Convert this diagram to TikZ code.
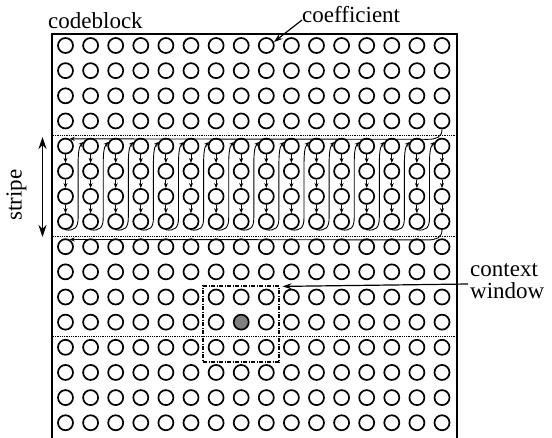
\documentclass[tikz,border=0pt]{standalone}
\usepackage{fontspec}
\setmainfont{Liberation Serif}
\usetikzlibrary{arrows.meta,calc}
\begin{document}
\begin{tikzpicture}[x=1pt,y=-1pt,
  cnode/.style={circle,draw,line width=1.7pt,minimum size=15pt,inner sep=0pt},
  scan/.style={line width=0.9pt,-{Stealth[length=5pt,width=4pt]}},
  callout/.style={line width=1.2pt,-{Stealth[length=9pt,width=6pt]}},
  txt/.style={font=\fontsize{23}{22}\selectfont,inner sep=0pt},
  sepline/.style={line width=0.8pt,densely dotted},
  winbox/.style={draw,line width=1.2pt,dash pattern=on 4pt off 1.5pt on 1pt off 1.5pt,minimum width=76pt,minimum height=76pt,inner sep=0pt}
]
\useasboundingbox (0,0) rectangle (552,437);
% codeblock frame
\draw[line width=1.8pt] (52,445) -- (52,34) -- (457,34) -- (457,445);
% stripe separators
\foreach \yy in {135.5,236,336.5} \draw[sepline] (53,\yy) -- (456,\yy);
% coefficients
\foreach \j in {0,...,15}{
  \foreach \i in {0,...,15}{
    \def\fc{none}\ifnum\j=7 \ifnum\i=11 \def\fc{gray}\fi\fi
    \node[cnode,fill=\fc] (c-\j-\i) at ({65.5+25.1*\j},{45.5+25.15*\i}) {};
  }
}
% scan inside the stripe
\foreach \j in {0,...,15}{
  \foreach \i/\k in {4/5,5/6,6/7} \draw[scan] (c-\j-\i) -- (c-\j-\k);
}
\foreach \j [evaluate=\j as \n using int(\j+1)] in {0,...,14}{
  \draw[scan] (c-\j-7.south) .. controls +(9,1) and +(0,10) .. ++(12.6,-12)
     -- ++(0,-52) .. controls +(0,-9) and +(-5,5) .. (c-\n-4.150);
}
\draw[scan] (c-15-3.south) .. controls +(0,8) and +(8,0) .. ++(-14,10) -- (c-0-4.60);
\draw[scan] (c-15-7.south) .. controls +(0,8) and +(8,0) .. ++(-14,10) -- (c-0-8.60);
% context window
\node[winbox] (win) at (241,324) {};
% labels
\node[txt,anchor=base west] (cb) at (48,28) {codeblock};
\node[txt,anchor=base west] (coef) at (302,22) {coefficient};
\draw[callout] ($(coef.base west)+(0,-2)$) -- (c-8-0.25);
\node[txt,anchor=west,align=left] (ctx) at (470,281) {context\\window};
\draw[callout] ($(ctx.west)+(-2,3)$) -- ($(win.north east)+(3,1)$);
\coordinate (st-top) at (42.5,137);
\coordinate (st-bot) at (42.5,237);
\draw[line width=1.6pt,{Stealth[length=12pt,width=8pt]}-{Stealth[length=12pt,width=8pt]}] (st-top) -- (st-bot);
\node[txt,rotate=90] (stripe) at (16.5,195) {stripe};
\end{tikzpicture}
\end{document}
